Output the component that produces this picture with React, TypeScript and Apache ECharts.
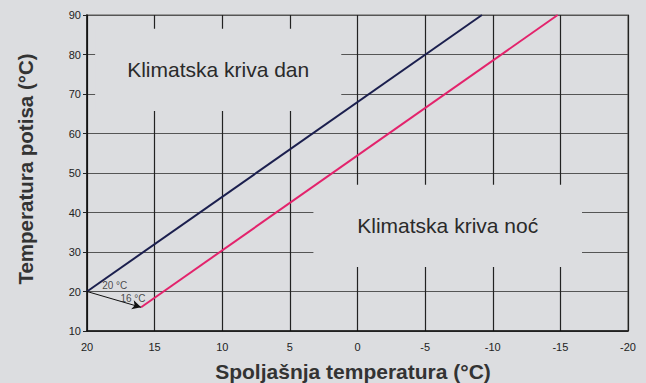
import React, { useEffect, useRef } from "react";
import * as echarts from "echarts";

const xTicks = { min: -20, max: 20, interval: 5 };
const yTicks = { min: 10, max: 90, interval: 10 };
const dayCurve: [number, number][] = [[20, 20], [-9.2, 90]];
const nightCurve: [number, number][] = [[16, 16], [-14.8, 90]];
const arrowFrom: [number, number] = [20, 20];
const arrowTo: [number, number] = [16, 16];
const annotations = [
  { name: "20 °C", value: [17.95, 21.4] },
  { name: "16 °C", value: [16.6, 18.35] },
];
const dayBox = { label: "Klimatska kriva dan", x: [19.4, 1.2], y: [86.5, 65.7] };
const nightBox = { label: "Klimatska kriva noć", x: [3.26, -16.6], y: [47, 26.2] };
const xTitle = "Spoljašnja temperatura (°C)";
const yTitle = "Temperatura potisa (°C)";

const BG = "#dcdde0";
const FONT = "'Liberation Sans', Arial, sans-serif";

export default function App() {
  const ref = useRef<HTMLDivElement>(null);
  useEffect(() => {
    const chart = echarts.init(ref.current!, null, { renderer: "svg" });
    const box = (b: typeof dayBox) => [
      {
        xAxis: b.x[0],
        yAxis: b.y[0],
        label: { show: true, position: "inside", formatter: b.label, fontSize: 21, color: "#2a2a2a", fontFamily: FONT },
      },
      { xAxis: b.x[1], yAxis: b.y[1] },
    ];
    chart.setOption({
      animation: false,
      backgroundColor: BG,
      textStyle: { fontFamily: FONT },
      grid: {
        left: 87,
        right: 18,
        top: 15,
        bottom: 52,
        show: true,
        borderColor: "#9a9a9a",
        borderWidth: 2,
        backgroundColor: "transparent",
      },
      graphic: [
        {
          type: "text",
          x: 353,
          y: 371,
          style: {
            text: xTitle,
            fontSize: 21,
            fontWeight: "bold",
            fill: "#333",
            fontFamily: FONT,
            align: "center",
            verticalAlign: "middle",
          },
        },
        {
          type: "text",
          x: 25,
          y: 169,
          rotation: Math.PI / 2,
          style: {
            text: yTitle,
            fontSize: 20.5,
            fontWeight: "bold",
            fill: "#333",
            fontFamily: FONT,
            align: "center",
            verticalAlign: "middle",
          },
        },
      ],
      xAxis: {
        type: "value",
        inverse: true,
        min: xTicks.min,
        max: xTicks.max,
        interval: xTicks.interval,
        axisLine: { show: true, onZero: false, lineStyle: { color: "#111", width: 1.5 } },
        axisTick: { show: false },
        axisLabel: { color: "#222", fontSize: 11, margin: 10 },
        splitLine: { show: true, lineStyle: { color: "#222", width: 1.2 } },
      },
      yAxis: {
        type: "value",
        min: yTicks.min,
        max: yTicks.max,
        interval: yTicks.interval,
        axisLine: { show: true, onZero: false, lineStyle: { color: "#111", width: 1.5 } },
        axisTick: { show: true, length: 4, lineStyle: { color: "#222" } },
        axisLabel: { color: "#222", fontSize: 11, margin: 6 },
        splitLine: { show: true, lineStyle: { color: "#555", width: 1.2 } },
      },
      series: [
        {
          type: "line",
          name: "boxes",
          data: [],
          silent: true,
          markArea: {
            silent: true,
            itemStyle: { color: BG },
            data: [box(dayBox), box(nightBox)],
          },
          z: 1,
        },
        {
          type: "line",
          name: "dan",
          data: dayCurve,
          symbol: "none",
          lineStyle: { color: "#1b1f4e", width: 2 },
          z: 3,
        },
        {
          type: "line",
          name: "noc",
          data: nightCurve,
          symbol: "none",
          lineStyle: { color: "#e3236c", width: 2 },
          z: 3,
        },
        {
          type: "line",
          name: "arrow",
          data: [],
          markLine: {
            silent: true,
            symbol: ["none", "arrow"],
            symbolSize: [7, 9],
            label: { show: false },
            lineStyle: { color: "#111", width: 1, type: "solid" },
            data: [[{ coord: arrowFrom }, { coord: arrowTo }]],
          },
          z: 4,
        },
        {
          type: "scatter",
          name: "ann",
          data: annotations,
          symbolSize: 0,
          label: {
            show: true,
            position: "inside",
            formatter: "{b}",
            fontSize: 10,
            color: "#222",
          },
          z: 5,
        },
      ],
    });
    return () => chart.dispose();
  }, []);
  return <div ref={ref} style={{ width: 646, height: 383, position: "absolute", left: 0, top: 0 }} />;
}
